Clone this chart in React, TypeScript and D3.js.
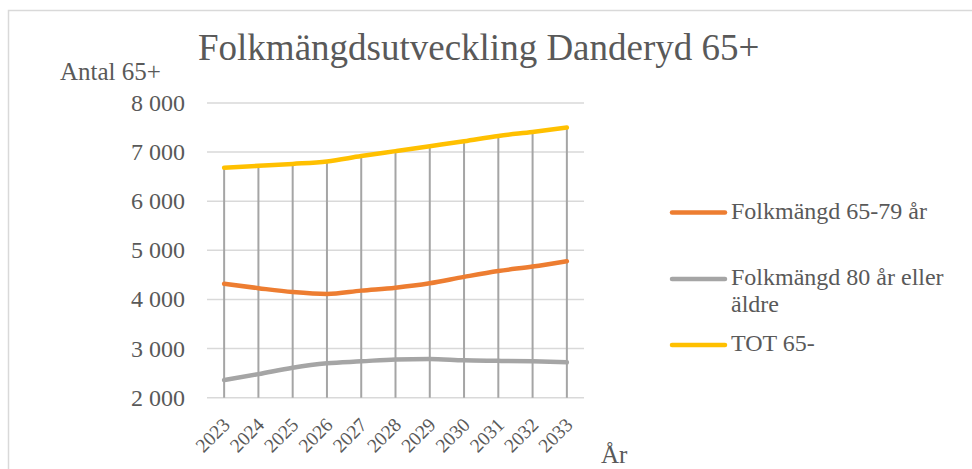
import React from "react";
import * as d3 from "d3";

const years = ["2023", "2024", "2025", "2026", "2027", "2028", "2029", "2030", "2031", "2032", "2033"];
const age6579 = [4320, 4230, 4150, 4110, 4180, 4240, 4330, 4460, 4580, 4670, 4780];
const age80plus = [2360, 2480, 2610, 2700, 2740, 2780, 2790, 2760, 2750, 2740, 2720];
const tot65 = [6680, 6720, 6760, 6810, 6920, 7020, 7120, 7220, 7330, 7410, 7500];
const yTicks = [2000, 3000, 4000, 5000, 6000, 7000, 8000];
const seriesNames = ["Folkmängd 65-79 år", "Folkmängd 80 år eller äldre", "TOT 65-"];
const seriesColors = ["#ED7D31", "#A5A5A5", "#FFC000"];

const W = 972;
const H = 469;
const FONT = "Liberation Serif, Times New Roman, serif";
const TEXT = "#595959";

export default function App() {
  const x = d3.scaleBand<string>().domain(years).range([207, 584]);
  const cx = (y: string) => (x(y) as number) + x.bandwidth() / 2;
  const y = d3.scaleLinear().domain([2000, 8000]).range([397.7, 103]);
  const series = [age6579, age80plus, tot65];
  const line = d3
    .line<number>()
    .x((_, i) => cx(years[i]))
    .y((v) => y(v))
    .curve(d3.curveMonotoneX);
  const fmt = (v: number) => d3.format(",")(v).replace(",", " ");
  const legendY = [212.5, 279, 345];
  const ts = { fontFamily: FONT } as React.CSSProperties;

  return (
    <svg
      width={W}
      height={H}
      style={{ position: "absolute", left: 0, top: 0, background: "#fff", fontFamily: FONT }}
    >
      <rect x={8.5} y={10.5} width={980} height={480} fill="#fff" stroke="#d9d9d9" strokeWidth={1.5} />
      <text x={198} y={60} fontSize={37} fill={TEXT} style={ts}>
        Folkmängdsutveckling Danderyd 65+
      </text>
      <text x={60} y={80} fontSize={25} fill={TEXT} style={ts}>
        Antal 65+
      </text>
      {yTicks.map((t) => (
        <g key={t}>
          <line x1={207} x2={584} y1={y(t)} y2={y(t)} stroke="#d9d9d9" strokeWidth={1.5} />
          <text x={185} y={y(t) + 8} fontSize={24} fill={TEXT} textAnchor="end" style={ts}>
            {fmt(t)}
          </text>
        </g>
      ))}
      {years.map((yr, i) => (
        <line
          key={yr}
          x1={cx(yr)}
          x2={cx(yr)}
          y1={y(Math.max(age6579[i], age80plus[i], tot65[i]))}
          y2={y(2000)}
          stroke="#A5A5A5"
          strokeWidth={2}
        />
      ))}
      {series.map((s, k) => (
        <path
          key={k}
          d={line(s) as string}
          fill="none"
          stroke={seriesColors[k]}
          strokeWidth={4.5}
          strokeLinecap="round"
          strokeLinejoin="round"
        />
      ))}
      {years.map((yr) => (
        <text
          key={yr}
          transform={`translate(${cx(yr) + 7},${426}) rotate(-45)`}
          fontSize={19.5}
          fill={TEXT}
          textAnchor="end"
          style={ts}
        >
          {yr}
        </text>
      ))}
      <text x={601} y={463} fontSize={25} fill={TEXT} style={ts}>
        År
      </text>
      {seriesNames.map((n, k) => (
        <g key={n}>
          <line
            x1={672}
            x2={725}
            y1={legendY[k]}
            y2={legendY[k]}
            stroke={seriesColors[k]}
            strokeWidth={4.5}
            strokeLinecap="round"
          />
          {k === 1 ? (
            <text x={731} y={legendY[k] + 6} fontSize={24} fill={TEXT} style={ts}>
              <tspan x={731}>Folkmängd 80 år eller</tspan>
              <tspan x={731} dy={27}>
                äldre
              </tspan>
            </text>
          ) : (
            <text x={731} y={legendY[k] + 6} fontSize={24} fill={TEXT} style={ts}>
              {n}
            </text>
          )}
        </g>
      ))}
    </svg>
  );
}
